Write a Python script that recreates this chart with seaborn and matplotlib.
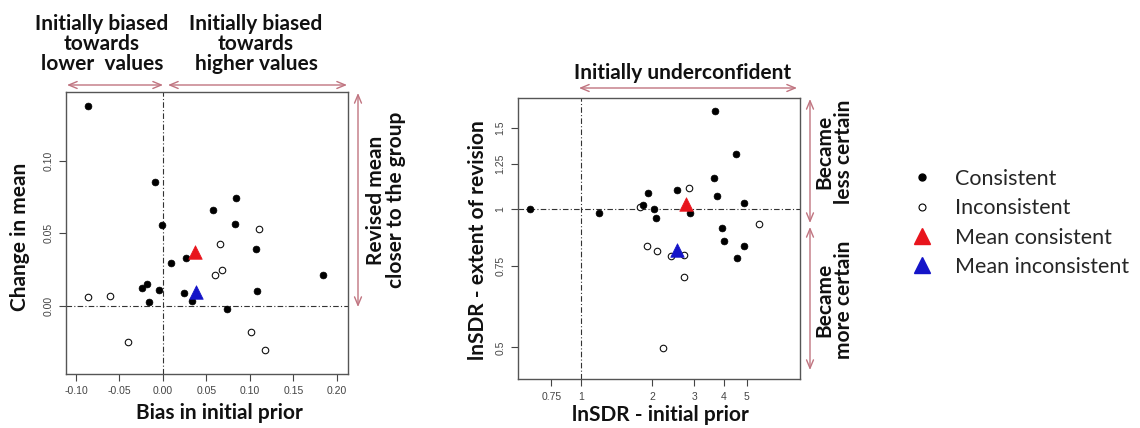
import matplotlib
matplotlib.use("Agg")
import matplotlib.pyplot as plt
import seaborn as sns
from matplotlib.lines import Line2D
from matplotlib.ticker import FixedLocator, NullLocator, FixedFormatter

# ---- Left panel: bias in initial prior vs change in mean ----
bias_consistent = [-0.0862, -0.0088, -0.0008, 0.0575, 0.0835, 0.0824, 0.1073, 0.0268, 0.0088,
                   0.1839, -0.0180, -0.0238, -0.0042, 0.0241, -0.0165, 0.0333, 0.1084, 0.0739]
change_consistent = [0.138, 0.0855, 0.0556, 0.0657, 0.0745, 0.0561, 0.0393, 0.0331, 0.0297,
                     0.0209, 0.0152, 0.0122, 0.0106, 0.0090, 0.0028, 0.0032, 0.0101, -0.0021]
bias_inconsistent = [-0.0862, -0.0613, -0.0402, 0.1103, 0.0655, 0.0674, 0.0594, 0.1015, 0.1172]
change_inconsistent = [0.0060, 0.0064, -0.0253, 0.0526, 0.0428, 0.0248, 0.0209, -0.0184, -0.0308]
bias_means = [0.0364, 0.0383]          # mean consistent, mean inconsistent
change_means = [0.0372, 0.0097]
bias_ticks = [-0.10, -0.05, 0.00, 0.05, 0.10, 0.15, 0.20]
change_ticks = [0.00, 0.05, 0.10]

# ---- Right panel: lnSDR initial prior vs lnSDR extent of revision ----
sdr_prior_consistent = [0.607, 1.187, 1.827, 1.918, 2.026, 2.065, 2.551, 2.873, 3.664,
                        3.640, 3.748, 4.523, 4.873, 3.935, 4.012, 4.873, 4.567]
sdr_revision_consistent = [1.000, 0.977, 1.020, 1.083, 1.000, 0.953, 1.097, 0.980, 1.628,
                           1.167, 1.065, 1.316, 1.027, 0.906, 0.852, 0.830, 0.783]
sdr_prior_inconsistent = [1.780, 2.855, 5.619, 1.899, 2.086, 2.398, 2.721, 2.712, 2.218]
sdr_revision_inconsistent = [1.010, 1.110, 0.926, 0.830, 0.810, 0.790, 0.792, 0.712, 0.498]
sdr_prior_means = [2.765, 2.551]
sdr_revision_means = [1.024, 0.814]
sdr_prior_ticks = [0.75, 1, 2, 3, 4, 5]
sdr_prior_ticklabels = ["0.75", "1", "2", "3", "4", "5"]
sdr_revision_ticks = [0.5, 0.75, 1, 1.25, 1.5]
sdr_revision_ticklabels = ["0.5", "0.75", "1", "1.25", "1.5"]

legend_labels = ["Consistent", "Inconsistent", "Mean consistent", "Mean inconsistent"]
mean_colors = ["#e8141c", "#1414c8"]

sns.set_style("white")
plt.rcParams["font.family"] = ["Liberation Sans", "DejaVu Sans"]

W, H = 1140, 428
fig = plt.figure(figsize=(W / 100, H / 100), dpi=100)


def fx(x):
    return x / W


def fy(y):
    return 1 - y / H


ax1 = fig.add_axes([fx(66), fy(374), fx(348) - fx(66), fy(92) - fy(374)])
ax2 = fig.add_axes([fx(518), fy(379), fx(800) - fx(518), fy(98) - fy(379)])

label_font = dict(family=["Lato", "DejaVu Sans"], fontweight="bold", fontsize=15, color="#111111")
arrow_color = "#c07480"
dashdot = (0, (5, 2, 1, 2))


def draw_points(ax, xc, yc, xi, yi, xm, ym):
    sns.scatterplot(x=xi, y=yi, ax=ax, color="white", edgecolor="#111111",
                    linewidth=0.8, s=22, marker="o", zorder=3, legend=False)
    sns.scatterplot(x=xc, y=yc, ax=ax, color="black", edgecolor="black",
                    linewidth=0.5, s=24, marker="o", zorder=4, legend=False)
    for x, y, c in zip(xm, ym, mean_colors):
        sns.scatterplot(x=[x], y=[y], ax=ax, color=c, edgecolor=c, linewidth=0.5,
                        s=95, marker="^", zorder=5, legend=False)


def style_axes(ax):
    for sp in ax.spines.values():
        sp.set_color("#555555")
        sp.set_linewidth(1.0)
    ax.tick_params(axis="both", which="both", direction="out", length=5, width=0.8,
                   color="#444444", labelsize=7.5, labelcolor="#444444", pad=4,
                   bottom=True, left=True)
    for lbl in ax.get_yticklabels():
        lbl.set_rotation(90)
        lbl.set_va("center")


# Left panel
draw_points(ax1, bias_consistent, change_consistent, bias_inconsistent,
            change_inconsistent, bias_means, change_means)
ax1.axvline(0, color="#333333", lw=0.8, ls=dashdot, zorder=1)
ax1.axhline(0, color="#333333", lw=0.8, ls=dashdot, zorder=1)
ax1.set_xlim(-0.1115, 0.2127)
ax1.set_ylim(-0.0471, 0.1474)
ax1.set_xticks(bias_ticks)
ax1.set_xticklabels([f"{t:.2f}" for t in bias_ticks])
ax1.set_yticks(change_ticks)
ax1.set_yticklabels([f"{t:.2f}" for t in change_ticks])
ax1.set_xlabel("")
ax1.set_ylabel("")
style_axes(ax1)

# Right panel
draw_points(ax2, sdr_prior_consistent, sdr_revision_consistent, sdr_prior_inconsistent,
            sdr_revision_inconsistent, sdr_prior_means, sdr_revision_means)
ax2.set_xscale("log")
ax2.set_yscale("log")
ax2.axvline(1, color="#333333", lw=0.8, ls=dashdot, zorder=1)
ax2.axhline(1, color="#333333", lw=0.8, ls=dashdot, zorder=1)
ax2.set_xlim(0.542, 8.40)
ax2.set_ylim(0.4269, 1.739)
ax2.xaxis.set_major_locator(FixedLocator(sdr_prior_ticks))
ax2.xaxis.set_major_formatter(FixedFormatter(sdr_prior_ticklabels))
ax2.xaxis.set_minor_locator(NullLocator())
ax2.yaxis.set_major_locator(FixedLocator(sdr_revision_ticks))
ax2.yaxis.set_major_formatter(FixedFormatter(sdr_revision_ticklabels))
ax2.yaxis.set_minor_locator(NullLocator())
ax2.set_xlabel("")
ax2.set_ylabel("")
style_axes(ax2)

# Axis titles
fig.text(fx(219), fy(413), "Bias in initial prior", ha="center", va="center", **label_font)
fig.text(fx(20), fy(237), "Change in mean", ha="center", va="center", rotation=90, **label_font)
fig.text(fx(660), fy(415), "lnSDR - initial prior", ha="center", va="center", **label_font)
fig.text(fx(478), fy(240), "lnSDR - extent of revision", ha="center", va="center",
         rotation=90, **label_font)


def arrow(x0, y0, x1, y1):
    fig.add_artist(matplotlib.patches.FancyArrowPatch(
        (fx(x0), fy(y0)), (fx(x1), fy(y1)), transform=fig.transFigure,
        arrowstyle="<->,head_length=6,head_width=2.5", color=arrow_color, lw=1.0,
        shrinkA=0, shrinkB=0))


# Region annotations, left panel
fig.text(fx(102), fy(44), "Initially biased\ntowards\nlower  values", ha="center", va="center",
         linespacing=1.0, **label_font)
fig.text(fx(256), fy(44), "Initially biased\ntowards\nhigher values", ha="center", va="center",
         linespacing=1.0, **label_font)
arrow(67, 85, 163, 85)
arrow(168, 85, 347, 85)
arrow(358, 93, 358, 307)
fig.text(fx(386), fy(200), "Revised mean\ncloser to the group", ha="center", va="center",
         rotation=90, linespacing=1.0, **label_font)

# Region annotations, right panel
fig.text(fx(683), fy(73), "Initially underconfident", ha="center", va="center", **label_font)
arrow(579, 88, 797, 88)
arrow(810, 99, 810, 223)
arrow(810, 227, 810, 370)
fig.text(fx(834), fy(152), "Became\nless certain", ha="center", va="center",
         rotation=90, linespacing=1.0, **label_font)
fig.text(fx(834), fy(300), "Became\nmore certain", ha="center", va="center",
         rotation=90, linespacing=1.0, **label_font)

# Legend
handles = [
    Line2D([], [], ls="none", marker="o", markersize=5, color="black"),
    Line2D([], [], ls="none", marker="o", markersize=5, markerfacecolor="white",
           markeredgecolor="black", markeredgewidth=0.8),
    Line2D([], [], ls="none", marker="^", markersize=12, color=mean_colors[0]),
    Line2D([], [], ls="none", marker="^", markersize=12, color=mean_colors[1]),
]
fig.legend(handles, legend_labels, loc="upper left", bbox_to_anchor=(fx(909), fy(169)),
           frameon=False, prop=dict(family=["Lato", "DejaVu Sans"], size=15.5),
           labelspacing=0.43, handletextpad=0.93, handlelength=1.2, borderpad=0, borderaxespad=0)

fig.savefig("out.png", dpi=100, facecolor="white")
